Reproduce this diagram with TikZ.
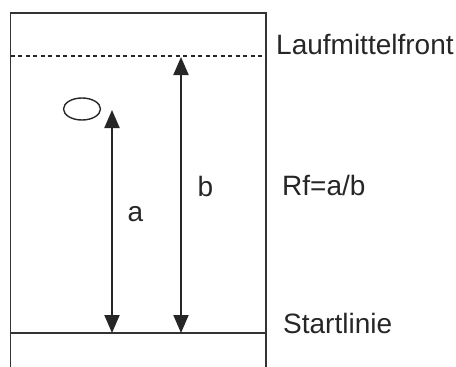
\documentclass[tikz,border=0pt]{standalone}
\usepackage{fontspec}
\setmainfont{Liberation Sans}
\usetikzlibrary{arrows.meta,positioning,shapes.geometric}

\begin{document}
\begin{tikzpicture}[
    x=1pt, y=-1pt,
    >={Triangle[length=18pt,width=15pt]},
    plate/.style={line width=1.6pt, draw=black!80},
    front/.style={line width=1.4pt, dash pattern=on 4pt off 3.5pt, draw=black!85},
    dist/.style={<->, line width=2pt, draw=black!85},
    spot/.style={draw=black!85, line width=1.4pt, ellipse, minimum width=37pt,
                 minimum height=22pt, inner sep=0pt},
    caption/.style={font=\fontsize{28}{33}\selectfont, text=black!85,
                    inner sep=0pt, anchor=west},
    letter/.style={font=\fontsize{28}{33}\selectfont, text=black!85, inner sep=0pt},
  ]
  \useasboundingbox (0,0) rectangle (456,367);

  % === Plate outline (open at the bottom) ===
  \coordinate (bl) at (10.5,367);
  \coordinate (tl) at (10.5,13);
  \coordinate (tr) at (266,13);
  \coordinate (br) at (266,367);
  \draw[plate] (bl) -- (tl) -- (tr) -- (br);

  % === Start line and solvent front ===
  \coordinate (startL) at (10.5,333);
  \coordinate (startR) at (266,333);
  \draw[plate] (startL) -- (startR);
  \coordinate (frontL) at (10.5,56);
  \coordinate (frontR) at (266,56);
  \draw[front] (frontL) -- (frontR);

  % === Spot ===
  \node[spot] (spot) at (82,109) {};

  % === Distances a and b ===
  \coordinate (a0) at (112,333);
  \coordinate (a1) at (112,110);
  \draw[dist] (a0) -- (a1);
  \coordinate (b0) at (181,333);
  \coordinate (b1) at (181,57);
  \draw[dist] (b0) -- (b1);
  \node[letter] (alabel) at (135.5,214) {a};
  \node[letter] (blabel) at (205.5,186.5) {b};

  % === Captions (right side) ===
  \node[caption] (frontlabel) at (276,44) {Laufmittelfront};
  \node[caption] (rflabel) at (282,185) {Rf=a/b};
  \node[caption] (startlabel) at (283,323) {Startlinie};

\end{tikzpicture}
\end{document}
